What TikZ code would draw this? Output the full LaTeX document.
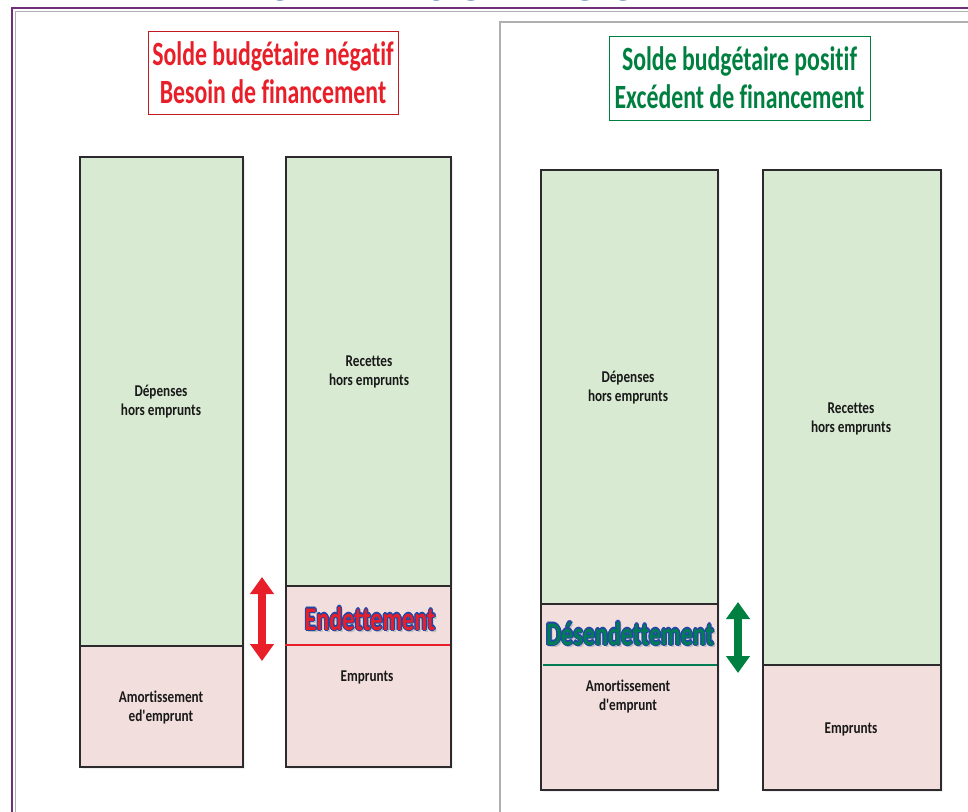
\documentclass[tikz,border=0pt]{standalone}
\usepackage{fontspec}
\newfontfamily\cfl[FakeStretch=0.8,Ligatures=CommonOff]{Carlito}
\newfontfamily\cft[FakeStretch=0.7,Ligatures=CommonOff]{Carlito}
\newfontfamily\cfb[FakeStretch=0.73,Ligatures=CommonOff]{Carlito}
\usetikzlibrary{arrows.meta,shadows}
\definecolor{framepurple}{RGB}{112,48,120}
\definecolor{framegray}{RGB}{175,175,178}
\definecolor{bargreen}{RGB}{216,234,210}
\definecolor{barpink}{RGB}{242,222,220}
\definecolor{barborder}{RGB}{45,42,45}
\definecolor{negred}{RGB}{232,30,40}
\definecolor{posgreen}{RGB}{0,128,64}
\definecolor{titleblue}{RGB}{31,92,150}
\definecolor{outlineblue}{RGB}{35,70,165}
\definecolor{desgreen}{RGB}{0,125,85}
\newcommand\outlinetext[3]{\leavevmode%
\rlap{\hspace*{2pt}\raisebox{-2pt}{\textcolor{black!25}{#3}}}%
\foreach \ox/\oy in {1.2/0,-1.2/0,0/1.2,0/-1.2,0.85/0.85,-0.85/0.85,0.85/-0.85,-0.85/-0.85}{%
\rlap{\hspace*{\ox pt}\raisebox{\oy pt}{\textcolor{#1}{#3}}}}%
\textcolor{#2}{#3}}
\begin{document}
\begin{tikzpicture}[x=1pt,y=-1pt,
  barbox/.style={draw=barborder,line width=1.8pt,inner sep=0pt,anchor=north west,
    drop shadow={opacity=0.12,shadow xshift=2pt,shadow yshift=-2pt}},
  greenbar/.style={barbox,fill=bargreen},
  pinkbar/.style={barbox,fill=barpink},
  lbl/.style={font=\cfl\bfseries\fontsize{16.5}{19}\selectfont,align=center,text=black!90,inner sep=0pt},
  titlebox/.style={draw,line width=1pt,minimum width=#1,align=center,inner sep=0pt,
    font=\cft\bfseries\fontsize{34}{38}\selectfont},
  bigword/.style={font=\cfb\bfseries\fontsize{33}{35}\selectfont,inner sep=0pt,anchor=base},
  blockarrow/.style={line width=8pt,{Triangle[width=23pt,length=17pt]}-{Triangle[width=23pt,length=17pt]}}]
\useasboundingbox (0,0) rectangle (968,811);
\fill[white] (0,0) rectangle (968,811);
% cut-off heading
\begin{scope}
\clip (0,0) rectangle (968,811);
\node[anchor=base,inner sep=0pt,text=titleblue,font=\cfb\bfseries\fontsize{80}{86}\selectfont] (heading) at (425,1) {LA DÉCLINAISON LOCALE};
\end{scope}
% frame
\draw[framepurple,line width=2.5pt] (12,812) -- (12,8) -- (969,8);
\draw[framegray,line width=1.5pt] (15.5,812) -- (15.5,11.5) -- (969,11.5);
\draw[framegray,line width=2pt] (500,812) -- (500,22) -- (969,22);
% title boxes
\node[titlebox=250pt,minimum height=83pt,draw=negred!85!black,text=negred] (negtitle) at (273,72.5)
  {Solde budgétaire négatif\\Besoin de financement};
\node[titlebox=261pt,minimum height=84pt,draw=posgreen,text=posgreen] (postitle) at (739.5,78)
  {Solde budgétaire positif\\Excédent de financement};
% left panel bars
\node[greenbar,minimum width=163pt,minimum height=489pt] (dep1) at (79,156) {};
\node[pinkbar,minimum width=163pt,minimum height=121pt] (amo1) at (79,645) {};
\node[greenbar,minimum width=165pt,minimum height=429pt] (rec1) at (285,156) {};
\node[pinkbar,minimum width=165pt,minimum height=181pt] (emp1) at (285,585) {};
% right panel bars
\node[greenbar,minimum width=177pt,minimum height=434pt] (dep2) at (540,169) {};
\node[pinkbar,minimum width=177pt,minimum height=186pt] (amo2) at (540,603) {};
\node[greenbar,minimum width=178pt,minimum height=495pt] (rec2) at (762,169) {};
\node[pinkbar,minimum width=178pt,minimum height=125pt] (emp2) at (762,664) {};
% separator lines
\coordinate (redL) at (285,645);
\coordinate (redR) at (450,645);
\draw[negred,line width=1.5pt] (redL) -- (redR);
\coordinate (grnL) at (543,665);
\coordinate (grnR) at (717,665);
\draw[desgreen,line width=1.5pt] (grnL) -- (grnR);
% labels
\node[lbl] (tdep1) at (161,402) {Dépenses\\hors emprunts};
\node[lbl] (tamo1) at (161,707) {Amortissement\\ed'emprunt};
\node[lbl] (trec1) at (369,372) {Recettes\\hors emprunts};
\node[lbl] (temp1) at (367,677) {Emprunts};
\node[lbl] (tdep2) at (628,388) {Dépenses\\hors emprunts};
\node[lbl] (tamo2) at (628,696) {Amortissement\\d'emprunt};
\node[lbl] (trec2) at (851,419) {Recettes\\hors emprunts};
\node[lbl] (temp2) at (851,729) {Emprunts};
\node[bigword] (endet) at (370,630) {\outlinetext{outlineblue}{negred}{Endettement}};
\node[bigword] (desendet) at (630,645) {\outlinetext{outlineblue}{desgreen}{Désendettement}};
% block arrows
\coordinate (ra1) at (262,577);
\coordinate (ra2) at (262,661);
\draw[blockarrow,negred] (ra1) -- (ra2);
\coordinate (ga1) at (738,602);
\coordinate (ga2) at (738,673);
\draw[blockarrow,posgreen] (ga1) -- (ga2);
\end{tikzpicture}
\end{document}
